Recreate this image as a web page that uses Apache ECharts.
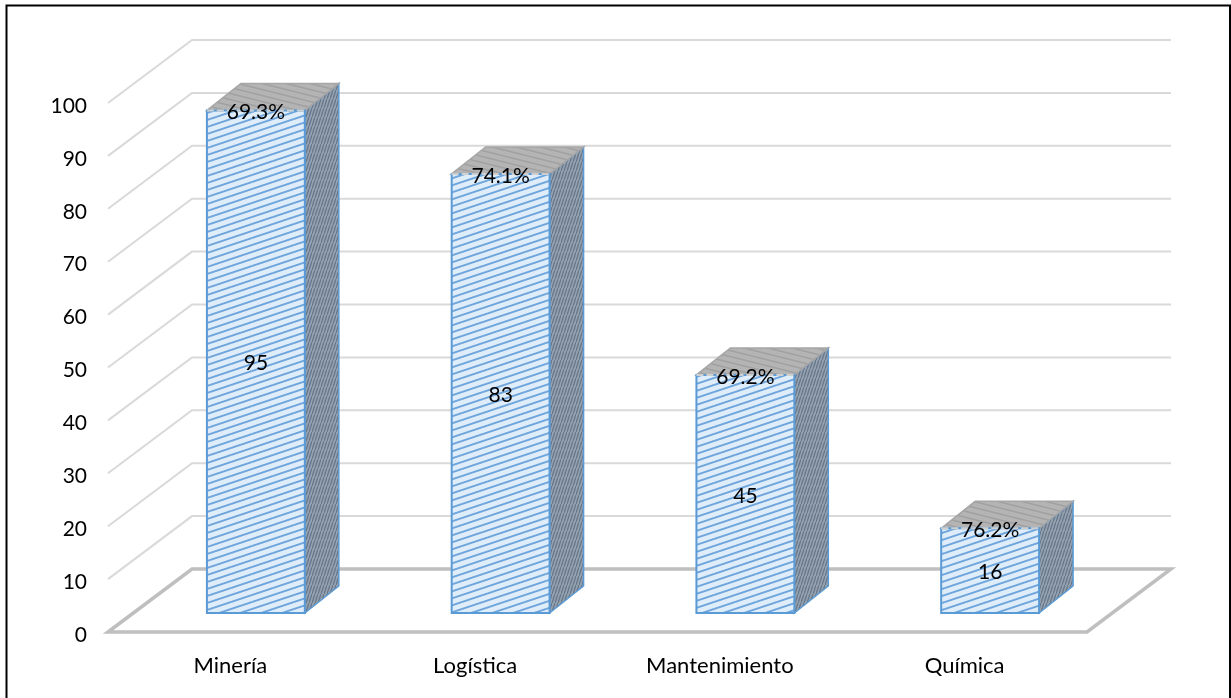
<!DOCTYPE html>
<html>
<head>
<meta charset="utf-8">
<style>html,body{margin:0;padding:0;background:#fff}#c{width:1231px;height:698px}</style>
<script src="https://cdn.jsdelivr.net/npm/echarts@6/dist/echarts.min.js"></script>
</head>
<body>
<div id="c"></div>
<script>
var categories = ['Minería', 'Logística', 'Mantenimiento', 'Química'];
var barValues = [95, 83, 45, 16];
var percentLabels = ['69.3%', '74.1%', '69.2%', '76.2%'];
var axisTicks = [0, 10, 20, 30, 40, 50, 60, 70, 80, 90, 100];

var FONT = 'Lato, Carlito, sans-serif';
var WALL_DX = 84, WALL_DY = -63;      // depth of the chart box
var BAR_DX = 34, BAR_DY = -27;        // depth of each bar
var BAR_SHIFT_X = 25.5, BAR_SHIFT_Y = -19; // bars stand inside the floor

function tile(w, h, bg, fg, lw, draw) {
  var cv = document.createElement('canvas');
  cv.width = w; cv.height = h;
  var g = cv.getContext('2d');
  g.fillStyle = bg; g.fillRect(0, 0, w, h);
  g.strokeStyle = fg; g.lineWidth = lw;
  draw(g, w, h);
  return { image: cv, repeat: 'repeat' };
}
function slanted(up) {
  return function (g, w, h) {
    for (var k = -1; k <= 1; k++) {
      g.beginPath();
      if (up) { g.moveTo(0, h + k * h); g.lineTo(w, k * h); }
      else { g.moveTo(0, k * h); g.lineTo(w, h + k * h); }
      g.stroke();
    }
  };
}
var frontFill = tile(21, 7, '#dfecf9', '#6ea5dc', 1.9, slanted(true));
var sideFill = tile(3, 9, '#94a1ae', '#66768a', 1.3, slanted(true));
var topFill = tile(24, 6, '#b4b4b4', '#a0a0a0', 1.5, slanted(false));

var chart = echarts.init(document.getElementById('c'), null, { renderer: 'canvas' });
chart.setOption({
  animation: false,
  backgroundColor: '#ffffff',
  grid: { left: 108, right: 144, top: 103, bottom: 66, containLabel: false },
  xAxis: {
    type: 'category',
    data: categories,
    axisLine: { show: false },
    axisTick: { show: false },
    axisLabel: { color: '#000', fontFamily: FONT, fontSize: 22, margin: 23 }
  },
  yAxis: {
    type: 'value', min: 0, max: 100, interval: 10,
    axisLine: { show: false },
    axisTick: { show: false },
    splitLine: { show: false },
    axisLabel: {
      color: '#000', fontFamily: FONT, fontSize: 21, margin: 21,
      formatter: '{t|{value}}',
      rich: { t: { color: '#000', fontFamily: FONT, fontSize: 21, padding: [6, 0, 0, 0] } }
    }
  },
  graphic: [{
    type: 'rect', silent: true, z: 100,
    shape: { x: 6.5, y: 5.5, width: 1223.5, height: 700 },
    style: { fill: 'none', stroke: '#000', lineWidth: 2 }
  }],
  series: [
    {
      type: 'custom',
      name: 'walls',
      coordinateSystem: 'cartesian2d',
      silent: true,
      z: 1,
      data: axisTicks.map(function (v) { return [0, v]; }),
      renderItem: function (params, api) {
        var v = api.value(1);
        var y = api.coord([0, v])[1];
        var cs = params.coordSys;
        var x0 = cs.x, x1 = cs.x + cs.width;
        if (v === 0) {
          return {
            type: 'polygon',
            shape: { points: [[x0, y], [x0 + WALL_DX, y + WALL_DY], [x1 + WALL_DX, y + WALL_DY], [x1, y]] },
            style: { fill: 'none', stroke: '#bfbfbf', lineWidth: 3.5 }
          };
        }
        return {
          type: 'polyline',
          shape: { points: [[x0, y], [x0 + WALL_DX, y + WALL_DY], [x1 + WALL_DX, y + WALL_DY]] },
          style: { fill: 'none', stroke: '#d9d9d9', lineWidth: 2 }
        };
      }
    },
    {
      type: 'custom',
      name: 'bars',
      coordinateSystem: 'cartesian2d',
      silent: true,
      z: 2,
      encode: { x: 0, y: 1 },
      data: barValues.map(function (v, i) { return [i, v]; }),
      renderItem: function (params, api) {
        var i = api.value(0), v = api.value(1);
        var topC = api.coord([i, v]), botC = api.coord([i, 0]);
        var w = api.size([1, 0])[0] * 0.4;
        var l = topC[0] + BAR_SHIFT_X - w / 2, r = l + w;
        var t = topC[1] + BAR_SHIFT_Y, b = botC[1] + BAR_SHIFT_Y;
        var blue = '#5b9bd5';
        return {
          type: 'group',
          children: [
            { type: 'polygon',
              shape: { points: [[r, t], [r + BAR_DX, t + BAR_DY], [r + BAR_DX, b + BAR_DY], [r, b]] },
              style: { fill: sideFill, stroke: blue, lineWidth: 1.5 } },
            { type: 'polygon',
              shape: { points: [[l, t], [l + BAR_DX, t + BAR_DY], [r + BAR_DX, t + BAR_DY], [r, t]] },
              style: { fill: topFill, stroke: '#a6a6a6', lineWidth: 1.5 } },
            { type: 'rect',
              shape: { x: l, y: t, width: w, height: b - t },
              style: { fill: frontFill, stroke: blue, lineWidth: 2 } },
            { type: 'line',
              shape: { x1: l, y1: t, x2: r, y2: t },
              style: { stroke: '#cfcfcf', lineWidth: 2, lineDash: [7, 3] } },
            { type: 'text',
              style: { x: (l + r) / 2, y: (t + b) / 2 + 2, text: String(v), fill: '#000',
                       font: '21px ' + FONT, align: 'center', verticalAlign: 'middle' } },
            { type: 'text',
              style: { x: (l + r) / 2, y: t + 2, text: percentLabels[i], fill: '#000',
                       font: '21px ' + FONT, align: 'center', verticalAlign: 'middle' } }
          ]
        };
      }
    }
  ]
});
</script>
</body>
</html>
